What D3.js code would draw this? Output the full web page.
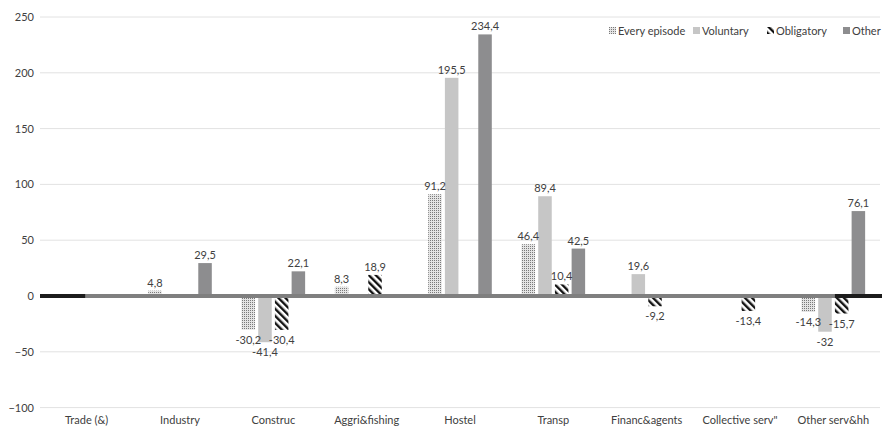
<!DOCTYPE html>
<html>
<head>
<meta charset="utf-8">
<script src="https://cdn.jsdelivr.net/npm/d3@7"></script>
<style>
  html, body { margin: 0; padding: 0; background: #fff; }
  svg { display: block; font-family: Lato, "Open Sans", sans-serif; }
</style>
</head>
<body>
<svg id="chart" width="889" height="426"></svg>
<script>
// Sectors along the x axis
const categories = ["Trade (&)", "Industry", "Construc", "Aggri&fishing", "Hostel",
                    "Transp", "Financ&agents", "Collective serv\"", "Other serv&hh"];
// Series names (legend order)
const seriesNames = ["Every episode", "Voluntary", "Obligatory", "Other"];
// Values per series; null = no bar / no label
const everyEpisode = [null, 4.8, -30.2, 8.3, 91.2, 46.4, null, null, -14.3];
const voluntary    = [null, null, -41.4, null, 195.5, 89.4, 19.6, null, -32];
const obligatory   = [null, null, -30.4, 18.9, null, 10.4, -9.2, -13.4, -15.7];
const other        = [null, 29.5, 22.1, null, 234.4, 42.5, null, null, 76.1];
// Y axis ticks
const yTicks = [-100, -50, 0, 50, 100, 150, 200, 250];

const seriesValues = [everyEpisode, voluntary, obligatory, other];

const svg = d3.select("#chart");
const plot = { left: 40, right: 880, top: 17, bottom: 407.6 };

const y = d3.scaleLinear().domain([-100, 250]).range([plot.bottom, plot.top]);
const x0 = d3.scaleBand().domain(categories).range([plot.left, plot.right]).padding(0);
const groupW = 63.6;
const x1 = d3.scaleBand().domain(seriesNames)
  .range([(x0.bandwidth() - groupW) / 2, (x0.bandwidth() + groupW) / 2])
  .paddingInner(0.19).paddingOuter(0);

// Fill patterns
const defs = svg.append("defs");
const dots = defs.append("pattern").attr("id", "dots")
  .attr("patternUnits", "userSpaceOnUse").attr("width", 2).attr("height", 2);
dots.append("rect").attr("width", 2).attr("height", 2).attr("fill", "#e4e4e4");
dots.append("rect").attr("width", 1).attr("height", 1).attr("fill", "#7a7a7a");

const stripes = defs.append("pattern").attr("id", "stripes")
  .attr("patternUnits", "userSpaceOnUse").attr("width", 5).attr("height", 5)
  .attr("patternTransform", "rotate(-45)");
stripes.append("rect").attr("width", 5).attr("height", 5).attr("fill", "#fff");
stripes.append("rect").attr("width", 2.4).attr("height", 5).attr("fill", "#111");

const fills = {
  "Every episode": "url(#dots)",
  "Voluntary": "#c6c6c6",
  "Obligatory": "url(#stripes)",
  "Other": "#8d8d8f"
};

// Gridlines
svg.append("g").selectAll("line").data(yTicks.filter(t => t !== 0)).join("line")
  .attr("x1", plot.left).attr("x2", plot.right)
  .attr("y1", d => y(d)).attr("y2", d => y(d))
  .attr("stroke", "#e2e2e2").attr("stroke-width", 1);

// Y axis labels
const yAxis = d3.axisLeft(y).tickValues(yTicks).tickSize(0).tickPadding(0);
const yg = svg.append("g").attr("transform", `translate(${plot.left - 6},0)`).call(yAxis);
yg.select(".domain").remove();
yg.selectAll("text").attr("font-size", 11).attr("fill", "#404040")
  .attr("font-family", "Lato, 'Open Sans', sans-serif");

// Bars
const rows = [];
categories.forEach((c, i) => {
  seriesNames.forEach((s, j) => {
    const v = seriesValues[j][i];
    if (v !== null) rows.push({ cat: c, series: s, value: v });
  });
});

const bars = svg.append("g");
bars.selectAll("rect").data(rows).join("rect")
  .attr("x", d => x0(d.cat) + x1(d.series))
  .attr("width", x1.bandwidth())
  .attr("y", d => y(Math.max(0, d.value)))
  .attr("height", d => Math.abs(y(d.value) - y(0)))
  .attr("fill", d => fills[d.series]);

// Zero line: dark outer ends, grey middle
const zg = svg.append("g");
zg.append("line").attr("x1", plot.left).attr("x2", plot.right + 2)
  .attr("y1", y(0)).attr("y2", y(0)).attr("stroke", "#1c1c1c").attr("stroke-width", 4);
zg.append("line").attr("x1", x0(categories[0]) + x0.bandwidth() / 2 - 1.5)
  .attr("x2", x0(categories[8]) + x1("Obligatory"))
  .attr("y1", y(0)).attr("y2", y(0)).attr("stroke", "#7f7f7f").attr("stroke-width", 4);

// Value labels
svg.append("g").selectAll("text").data(rows).join("text")
  .attr("x", d => x0(d.cat) + x1(d.series) + x1.bandwidth() / 2)
  .attr("y", d => d.value >= 0 ? y(d.value) - 4 : y(d.value) + 14)
  .attr("text-anchor", "middle")
  .attr("font-size", 11).attr("fill", "#404040")
  .text(d => String(d.value).replace(".", ","));

// Category labels
svg.append("g").selectAll("text").data(categories).join("text")
  .attr("x", d => x0(d) + x0.bandwidth() / 2)
  .attr("y", 424)
  .attr("text-anchor", "middle")
  .attr("font-size", 11).attr("fill", "#404040")
  .text(d => d);

// Legend
const legendX = [609, 693, 767, 843];
const lg = svg.append("g");
seriesNames.forEach((s, i) => {
  const g = lg.append("g").attr("transform", `translate(${legendX[i]},27)`);
  g.append("rect").attr("width", 7).attr("height", 7).attr("fill", fills[s]);
  g.append("text").attr("x", 9).attr("y", 7.5).attr("font-size", 11)
    .attr("fill", "#404040").text(s);
});
</script>
</body>
</html>
